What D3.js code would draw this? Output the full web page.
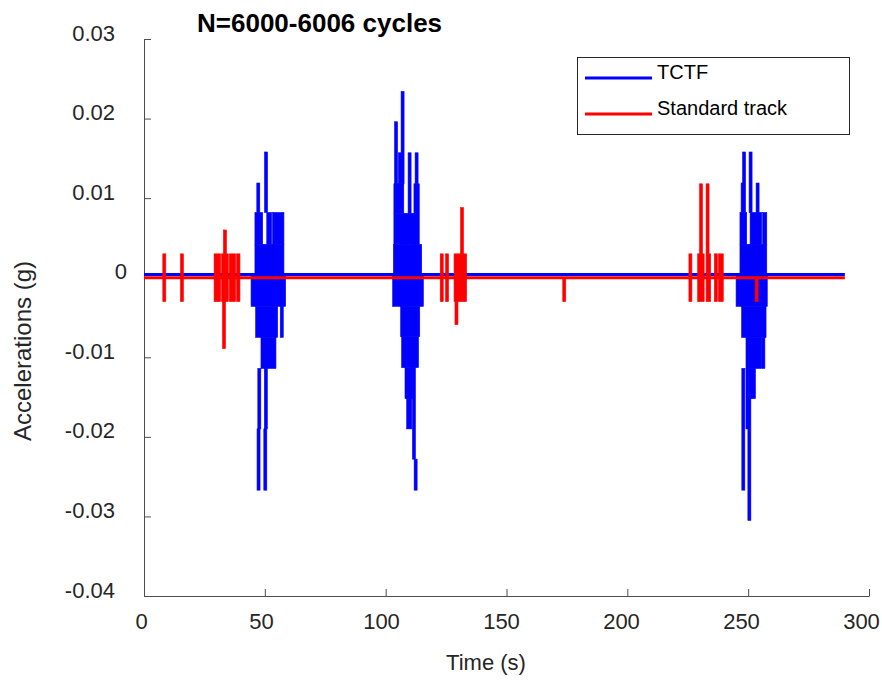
<!DOCTYPE html>
<html>
<head>
<meta charset="utf-8">
<script src="https://cdn.jsdelivr.net/npm/d3@7/dist/d3.min.js"></script>
<style>
    body { margin: 0; background: #ffffff; }
    text { font-family: "Liberation Sans", Arial, sans-serif; fill: #262626; }
</style>
</head>
<body>
<div id="chart"></div>
<script>
// chart data
var titleText = "N=6000-6006 cycles";
var xLabel = "Time (s)";
var yLabel = "Accelerations (g)";
var seriesNames = ["TCTF", "Standard track"];

var xTicks = [0, 50, 100, 150, 200, 250, 300];
var yTicks = [-0.04, -0.03, -0.02, -0.01, 0, 0.01, 0.02, 0.03];
var yTickLabels = ["-0.04", "-0.03", "-0.02", "-0.01", "0", "0.01", "0.02", "0.03"];

// quiet level of each signal between the bursts: [time, value]
var tctfBaseline = [[0, 0.0004], [290, 0.0004]];
var trackBaseline = [[0, 0], [290, 0]];

// oscillation bursts: [time start, time end, upper value, lower value]
// start == end means a single spike
var tctfBursts = [
    // around 50 s
    [44.3, 58.6, 0.0004, -0.0036],
    [45.9, 57.9, 0.0042, 0.0004],
    [45.9, 49.1, 0.0082, 0.0042],
    [50.8, 52.8, 0.0082, 0.0042],
    [53.2, 57.9, 0.0082, 0.0042],
    [47.3, 47.3, 0.0119, 0.0082],
    [50.5, 50.5, 0.0158, 0.0082],
    [46.2, 55.3, -0.0036, -0.0075],
    [57.0, 57.0, -0.0036, -0.0075],
    [48.4, 54.6, -0.0075, -0.0114],
    [47.1, 48.0, -0.0114, -0.0190],
    [49.8, 50.8, -0.0114, -0.0190],
    [47.4, 47.4, -0.0190, -0.0267],
    [50.2, 50.2, -0.0190, -0.0267],
    // around 110 s
    [102.9, 115.6, 0.0004, -0.0036],
    [103.2, 114.9, 0.0042, 0.0004],
    [103.4, 112.8, 0.0081, 0.0042],
    [103.4, 107.5, 0.0118, 0.0081],
    [111.7, 113.9, 0.0118, 0.0042],
    [112.8, 112.8, 0.0157, 0.0118],
    [105.9, 105.9, 0.0157, 0.0118],
    [109.9, 109.9, 0.0157, 0.0081],
    [104.3, 104.3, 0.0196, 0.0118],
    [107.0, 107.0, 0.0234, 0.0118],
    [106.2, 114.1, -0.0036, -0.0074],
    [106.6, 113.6, -0.0074, -0.0113],
    [108.0, 111.2, -0.0113, -0.0152],
    [108.7, 110.8, -0.0152, -0.0190],
    [111.7, 111.7, -0.0113, -0.0228],
    [112.4, 112.4, -0.0228, -0.0267],
    // around 250 s
    [245.0, 257.9, 0.0004, -0.0036],
    [246.6, 257.7, 0.0042, 0.0004],
    [246.6, 249.4, 0.0082, 0.0042],
    [250.8, 255.6, 0.0082, 0.0042],
    [256.0, 257.7, 0.0082, 0.0042],
    [247.7, 247.7, 0.0119, 0.0082],
    [253.9, 253.9, 0.0119, 0.0082],
    [248.3, 248.3, 0.0158, 0.0082],
    [251.0, 251.0, 0.0158, 0.0082],
    [247.3, 257.4, -0.0036, -0.0075],
    [249.1, 255.6, -0.0075, -0.0114],
    [256.3, 256.3, -0.0075, -0.0114],
    [250.3, 253.0, -0.0114, -0.0152],
    [249.7, 249.7, -0.0114, -0.0190],
    [248.0, 248.0, -0.0114, -0.0267],
    [250.5, 250.5, -0.0152, -0.0305]
];

var trackBursts = [
    [8.4, 8.4, 0.0030, -0.0030],
    [15.7, 15.7, 0.0030, -0.0030],
    [29.0, 31.7, 0.0030, -0.0030],
    [32.1, 34.9, 0.0030, -0.0030],
    [35.3, 37.9, 0.0030, -0.0030],
    [38.3, 39.7, 0.0030, -0.0030],
    [33.5, 33.5, 0.0060, 0.0030],
    [33.1, 33.1, -0.0030, -0.0089],
    [123.2, 123.2, 0.0030, -0.0030],
    [125.4, 125.4, 0.0030, -0.0030],
    [128.3, 133.5, 0.0030, -0.0030],
    [131.6, 131.6, 0.0088, 0.0030],
    [129.3, 129.3, -0.0030, -0.0059],
    [173.9, 173.9, 0, -0.0030],
    [226.1, 226.1, 0.0030, -0.0030],
    [229.1, 231.8, 0.0030, -0.0030],
    [232.6, 234.5, 0.0030, -0.0030],
    [236.0, 237.2, 0.0030, -0.0030],
    [237.7, 239.7, 0.0030, -0.0030],
    [230.5, 230.5, 0.0118, 0.0030],
    [233.2, 233.2, 0.0118, 0.0030],
    [253.5, 253.5, 0, -0.0030]
];

window.onload = function () {

    var width = 882;
    var height = 682;
    var left = 144, right = 869, top = 39, bottom = 596;
    var BLUE = "#0000ff";
    var RED = "#ff0000";
    var AXIS = "#4d4d4d";

    var svg = d3.select("#chart")
        .append("svg")
        .attr("width", width)
        .attr("height", height);

    var x = d3.scaleLinear().domain([0, 300]).range([left, right]);
    var y = d3.scaleLinear().domain([-0.04, 0.03]).range([bottom, top]);

    // Axes, ticks pointing inward like MATLAB
    var xAxis = svg.append("g")
        .attr("transform", "translate(0," + bottom + ")")
        .call(d3.axisBottom(x).tickValues(xTicks).tickSizeInner(-7).tickSizeOuter(0));
    xAxis.selectAll("text")
        .attr("y", 33)
        .attr("dy", 0)
        .attr("dx", function (d) { return -(3 + d / 60); })
        .style("font-size", "22px");

    var yAxis = svg.append("g")
        .attr("transform", "translate(" + left + ",0)")
        .call(d3.axisLeft(y)
            .tickValues(yTicks)
            .tickFormat(function (d, i) { return yTickLabels[i]; })
            .tickSizeInner(-7)
            .tickSizeOuter(0));
    yAxis.selectAll("text")
        .attr("x", function (d) { return d === 0 ? -17 : -29; })
        .attr("dy", 1)
        .style("font-size", "22px");

    svg.selectAll(".domain, .tick line")
        .attr("stroke", AXIS)
        .attr("stroke-width", 1);
    svg.selectAll(".tick text").attr("fill", "#262626");

    // Signals: bursts as filled blocks / spikes, then the quiet line
    function drawSeries(bursts, base, color) {
        var g = svg.append("g");
        g.selectAll("rect")
            .data(bursts)
            .join("rect")
            .attr("x", function (d) { return d[1] > d[0] ? x(d[0]) : x(d[0]) - 1.5; })
            .attr("width", function (d) { return Math.max(x(d[1]) - x(d[0]), 3); })
            .attr("y", function (d) { return y(d[2]); })
            .attr("height", function (d) { return y(d[3]) - y(d[2]); })
            .attr("fill", color)
            .attr("stroke", color)
            .attr("stroke-width", 0.6);

        g.append("path")
            .datum(base)
            .attr("fill", "none")
            .attr("stroke", color)
            .attr("stroke-width", 3)
            .attr("d", d3.line()
                .x(function (d) { return x(d[0]); })
                .y(function (d) { return y(d[1]); }));
    }

    drawSeries(tctfBursts, tctfBaseline, BLUE);
    drawSeries(trackBursts, trackBaseline, RED);

    // Title and axis labels
    svg.append("text")
        .attr("x", 197)
        .attr("y", 32)
        .style("font-size", "26px")
        .style("font-weight", "bold")
        .style("fill", "#000")
        .text(titleText);

    svg.append("text")
        .attr("x", 486)
        .attr("y", 670)
        .attr("text-anchor", "middle")
        .style("font-size", "22px")
        .text(xLabel);

    svg.append("text")
        .attr("transform", "translate(31,351) rotate(-90)")
        .attr("text-anchor", "middle")
        .style("font-size", "24px")
        .text(yLabel);

    // Legend
    var legend = svg.append("g");
    legend.append("rect")
        .attr("x", 577.5)
        .attr("y", 57.5)
        .attr("width", 272)
        .attr("height", 77)
        .attr("fill", "#fff")
        .attr("stroke", "#262626")
        .attr("stroke-width", 1);

    var legendColors = [BLUE, RED];
    var legendY = [78, 114];
    seriesNames.forEach(function (name, i) {
        legend.append("line")
            .attr("x1", 585)
            .attr("x2", 652)
            .attr("y1", legendY[i])
            .attr("y2", legendY[i])
            .attr("stroke", legendColors[i])
            .attr("stroke-width", 3);
        legend.append("text")
            .attr("x", 657)
            .attr("y", legendY[i] + 1)
            .style("font-size", "20px")
            .style("fill", "#000")
            .text(name);
    });
};
</script>
</body>
</html>
